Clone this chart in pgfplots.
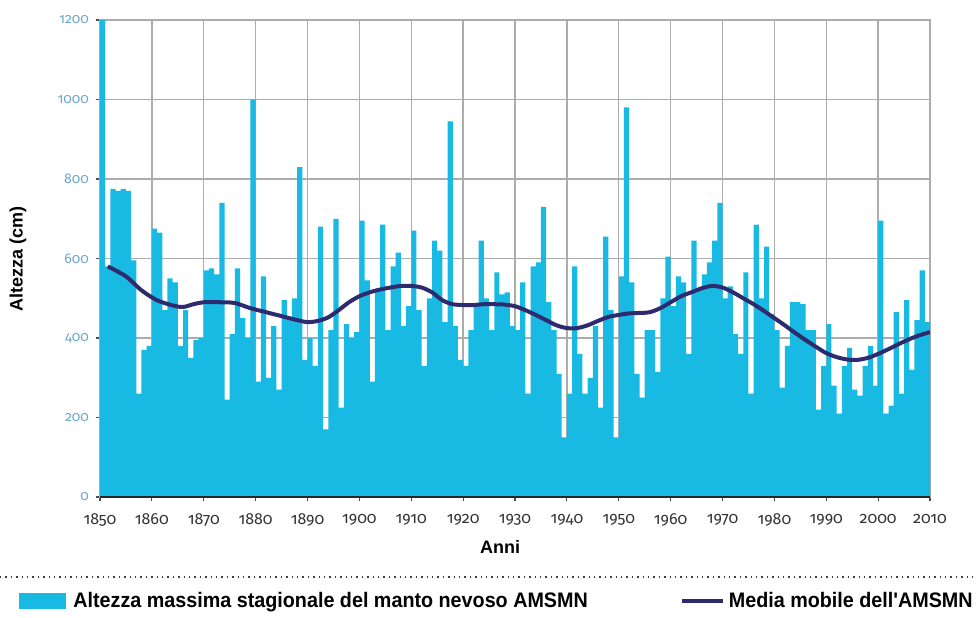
\documentclass[border=0pt]{standalone}
\usepackage{pgfplots}
\pgfplotsset{compat=1.18}
\usepackage{pgfplotstable}
\usepackage{fontspec}
\setmainfont{Liberation Sans}
\newfontfamily\tickfont[Numbers=OldStyle]{Fira Sans}
\newfontfamily\legfont[FakeStretch=0.94]{Liberation Sans}
\definecolor{barcol}{RGB}{24,186,228}
\definecolor{linecol}{RGB}{46,42,110}
\definecolor{ytickcol}{RGB}{110,165,200}

\pgfplotstableread{
year value
1850 1200
1851 580
1852 775
1853 770
1854 775
1855 770
1856 595
1857 260
1858 370
1859 380
1860 675
1861 665
1862 470
1863 550
1864 540
1865 380
1866 470
1867 350
1868 395
1869 400
1870 570
1871 575
1872 560
1873 740
1874 245
1875 410
1876 575
1877 450
1878 400
1879 1000
1880 290
1881 555
1882 300
1883 430
1884 270
1885 495
1886 450
1887 500
1888 830
1889 345
1890 400
1891 330
1892 680
1893 170
1894 420
1895 700
1896 225
1897 435
1898 400
1899 415
1900 695
1901 545
1902 290
1903 520
1904 685
1905 420
1906 580
1907 615
1908 430
1909 480
1910 670
1911 470
1912 330
1913 500
1914 645
1915 620
1916 440
1917 945
1918 430
1919 345
1920 330
1921 420
1922 480
1923 645
1924 500
1925 420
1926 565
1927 510
1928 515
1929 430
1930 420
1931 540
1932 260
1933 580
1934 590
1935 730
1936 490
1937 420
1938 310
1939 150
1940 260
1941 580
1942 360
1943 260
1944 300
1945 430
1946 225
1947 655
1948 470
1949 150
1950 555
1951 980
1952 540
1953 310
1954 250
1955 420
1956 420
1957 315
1958 500
1959 605
1960 480
1961 555
1962 540
1963 360
1964 645
1965 520
1966 560
1967 590
1968 645
1969 740
1970 500
1971 530
1972 410
1973 360
1974 565
1975 260
1976 685
1977 500
1978 630
1979 460
1980 420
1981 275
1982 380
1983 490
1984 490
1985 485
1986 420
1987 420
1988 220
1989 330
1990 435
1991 280
1992 210
1993 330
1994 375
1995 270
1996 255
1997 330
1998 380
1999 280
2000 695
2001 210
2002 230
2003 465
2004 260
2005 495
2006 320
2007 445
2008 570
2009 440
}\bars

\pgfplotstableread{
year value
1851.5 580
1855 555
1858 520
1861 495
1864 482
1866 478
1868 485
1870 490
1873 490
1876 488
1879 475
1882 465
1885 455
1888 445
1890 440
1892 443
1894 452
1896 470
1898 490
1900 505
1902 515
1904 522
1906 527
1908 531
1910 531
1912 527
1914 515
1916 495
1918 485
1920 483
1922 483
1924 485
1926 485
1928 484
1930 480
1932 470
1934 458
1936 445
1938 432
1940 425
1942 425
1944 432
1946 443
1948 453
1950 458
1952 462
1954 463
1956 465
1958 475
1960 490
1962 505
1964 515
1966 525
1968 531
1970 527
1972 515
1974 500
1976 485
1978 468
1980 450
1982 432
1984 413
1986 395
1988 378
1990 362
1992 352
1994 346
1996 345
1998 350
2000 360
2002 372
2004 385
2006 397
2008 407
2010 415
}\mavg

\begin{document}
\begin{tikzpicture}
\begin{axis}[
  name=ax,
  scale only axis, width=415pt, height=238.5pt,
  xmin=1850, xmax=2010, ymin=0, ymax=1200,
  xtick={1850,1860,...,2010},
  xticklabels={1850,1860,1870,1880,1890,1900,1910,1920,1930,1940,1950,1960,1970,1980,1990,2000,2010},
  ytick={0,200,...,1200},
  yticklabels={0,200,400,600,800,1000,1200},
  xticklabel style={font=\tickfont\fontsize{8}{8}\selectfont, text=black!80, yshift=-3pt},
  yticklabel style={font=\tickfont\fontsize{7}{7}\selectfont, text=ytickcol},
  tick align=outside,
  xtick pos=bottom, ytick pos=left,
  major tick length=2pt,
  tick style={black!70, line width=0.6pt},
  grid=major,
  major grid style={gray!65, line width=0.7pt},
  axis line style={gray!65, line width=0.7pt},
  xlabel={Anni},
  ylabel={Altezza (cm)},
  xlabel style={font=\bfseries\fontsize{9}{9}\selectfont, at={(axis description cs:0.482,0)}, anchor=center, yshift=-25pt},
  ylabel style={font=\bfseries\fontsize{9}{9}\selectfont, at={(axis description cs:0,0.5)}, anchor=center, yshift=41pt},
  legend columns=2,
  legend style={at={(rel axis cs:-0.0976,-0.218)}, anchor=west, draw=none, fill=none,
    inner sep=0pt, font=\legfont\bfseries\fontsize{10.5}{10.5}\selectfont,
    /tikz/every even column/.append style={column sep=45pt},
    nodes={inner sep=1pt}},
  legend cell align=left,
]
\addplot[ybar, bar width=1, bar shift=0.5, fill=barcol, draw=none,
  legend image code/.code={\fill[barcol] (0pt,-4.2pt) rectangle (23.5pt,4.2pt); \path (26pt,0pt);}]
  table[x=year, y=value] {\bars};
\addlegendentry{Altezza massima stagionale del manto nevoso AMSMN}
\addplot[linecol, line width=2pt, smooth, line join=round,
  legend image code/.code={\draw[linecol, line width=2pt] (0pt,0pt) -- (20.5pt,0pt); \path (21.5pt,0pt);}]
  table[x=year, y=value] {\mavg};
\addlegendentry{Media mobile dell'AMSMN}
\draw[black!85, line width=1.1pt] (rel axis cs:0,0) -- (rel axis cs:1,0);
\end{axis}
\draw[black!75, dotted, line width=0.7pt] ([xshift=-50pt,yshift=-40pt]ax.south west) -- ([xshift=438.5pt,yshift=-40pt]ax.south west);
\pgfresetboundingbox
\useasboundingbox ([xshift=-50pt,yshift=-60pt]ax.south west) rectangle ([xshift=438.5pt,yshift=248.5pt]ax.south west);
\end{tikzpicture}
\end{document}
